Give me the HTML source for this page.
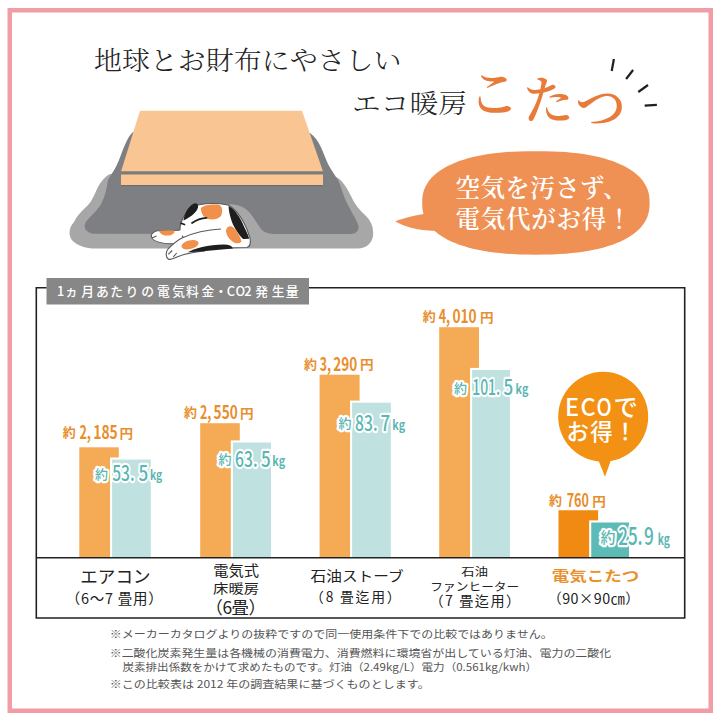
<!DOCTYPE html>
<html lang="ja">
<head>
<meta charset="utf-8">
<style>
html,body{margin:0;padding:0;background:#fff;}
body{width:720px;height:720px;overflow:hidden;position:relative;}
svg{position:absolute;left:0;top:0;display:block;}
.serif{font-family:"Liberation Serif","Noto Serif CJK JP","Noto Serif CJK SC",serif;}
.sans{font-family:"Liberation Sans","Noto Sans CJK JP","Noto Sans CJK SC",sans-serif;}
.jp{font-family:"Noto Sans CJK JP","Noto Sans CJK SC",sans-serif;}
.num{font-family:"Liberation Sans",sans-serif;}
</style>
</head>
<body>
<svg width="720" height="720" viewBox="0 0 720 720">
  <!-- pink frame -->
  <rect x="9.75" y="10.25" width="701" height="700.5" fill="none" stroke="#F19DA6" stroke-width="4.5"/>

  <!-- title -->
  <text class="serif" x="94" y="70" font-size="26" font-weight="300" fill="#222" textLength="307.5" lengthAdjust="spacingAndGlyphs">地球とお財布にやさしい</text>
  <text class="serif" x="352" y="113" font-size="26" font-weight="300" fill="#222" textLength="115" lengthAdjust="spacingAndGlyphs">エコ暖房</text>

  <!-- こたつ -->
  <g class="serif" font-size="51" fill="#E97B3A" font-weight="600">
    <text x="468.5" y="111.5">こ</text>
    <text x="523" y="119">た</text>
    <text x="575" y="126">つ</text>
  </g>
  <!-- rays -->
  <g stroke="#1f1f1f" stroke-width="2.2" stroke-linecap="butt">
    <line x1="613.9" y1="59" x2="611.7" y2="71"/>
    <line x1="633.1" y1="70" x2="626.1" y2="79"/>
    <line x1="648" y1="85" x2="638.3" y2="92"/>
    <line x1="644.7" y1="105.6" x2="656.9" y2="104.8"/>
  </g>

  <!-- kotatsu -->
  <g id="kotatsu">
    <path d="M110,174 C104,177 100,183 97,189 C94,196 91,203 85,208 C80,213 76,217 74,222 C68,228 68,238 74,242 C79,246 86,248.5 95,248.5 L358,248.5 C366,248.5 372,243 373,236 C374,228 371,221 366,216 C359,210 354,203 351,196 C346,186 342,180 336,177 Z" fill="#A7A7A8"/>
    <path d="M133,132 C127,137 123,150 119,160 C116,168 112,173 108,180 C106.5,190 104.5,198 100.5,205 C96,212 89,217.5 85.5,222.5 C83.5,227 85,232 93,233.8 L350,234 C356,234 359,231 358.5,226 C356,218 350,210 346,201 C342,192 340,182 336,177 C333,172 330,168 328,164 C323,153 320,140 310,133 Z" fill="#7E7F83"/>
    <!-- table -->
    <polygon points="140,110.7 302,110.7 323,171.5 121,171.5" fill="#F9C592"/>
    <rect x="121" y="171.5" width="202" height="3" fill="#7b7b7b"/>
    <rect x="121" y="174.5" width="202" height="10.5" fill="#F9C592"/>
    <rect x="121" y="185" width="202" height="1.2" fill="#6c6d71"/>
    <!-- mound over cat -->
    <path d="M222,234 C222,220 224,207 228,204.5 C236,203 245,207 250,213 C255,219 258,226 263,231 C266,233 270,234 274,234 Z" fill="#A7A7A8"/>
    <!-- cat -->
    <g stroke="#5a5a5a" stroke-width="1.1" stroke-linejoin="round">
      <!-- body -->
      <path d="M181,223 C183,215 190,207 198,205 C208,203 220,203.5 228,205 C237,210 245,222 250,238 C251,243 250,246.5 247,247.5 L200,248.5 L183,237 C180,234 179,229 181,223 Z" fill="#fff"/>
      <path d="M228.6,206.3 C233,208 238,214 242,222 C245,229 248,234 249.2,238.7 L243,239 C238,234 233,226 231,219 C229.5,214 228.6,210 228.6,206.3 Z" fill="#1e1e1e" stroke="none"/>
      <path d="M226,230 C227,226 231,225 234,228 C237,231 240,236 241.5,241 C241,243.5 236,244 233,242 C229,239 226,235 226,230 Z" fill="#F0904A" stroke="none"/>
      <path d="M200.8,208 C204,205 212,204 219,204.8 C222.5,206 223,212 221,216 C218,219.5 212,220 208,219 C204,217.5 201,214 200.8,208 Z" fill="#F0904A" stroke="none"/>
      <path d="M183.5,220.5 C184,214 188,207 193,204 C196,202.3 198.8,204 198,207.5 C197,211.5 192,216.5 183.5,220.5 Z" fill="#1e1e1e" stroke="none"/>
      <!-- left paw -->
      <path d="M183,230.2 L157,230.8 C153.5,232 151,234 151.3,236.5 C152,240.5 157,242.8 169,243.8 L181,243 Z" fill="#fff" stroke="none"/>
      <path d="M179.5,230.2 L157,230.8 C153.5,232 151,234 151.3,236.5 C152,240.5 157,242.8 169,243.8 L176,243.8" fill="none"/>
      <path d="M159,230.8 C164,230 170,230 174.5,230.4 C175,233 172,235.5 167,235.6 C162.5,235.5 160,233.5 159,230.8 Z" fill="#F0904A" stroke="none"/>
      <path d="M152,238 L156.5,236" fill="none"/>
      <!-- lower leg -->
      <path d="M222,229 C210,229.5 195,232 182,238 C177,240.5 172,245 168,249 C165.5,252 165.5,257 168.5,259.2 C171,260 174,258.5 177,257 C183,254.5 192,252 205,251 L224,249 L224,229 Z" fill="#fff" stroke="none"/>
      <path d="M221,229 C210,229.5 195,232 182,238 C177,240.5 172,245 168,249 C165.5,252 165.5,257 168.5,259.2 C171,260 174,258.5 177,257 C183,254.5 192,252 205,251" fill="none"/>
      <path d="M168.3,254.4 L172.2,250.5 M173.3,256.9 L176.7,253" fill="none"/>
      <ellipse cx="190" cy="244.7" rx="8.8" ry="4.3" transform="rotate(-14 190 244.7)" fill="#F0904A" stroke="none"/>
      <path d="M187.5,252.3 C194,248.8 208,244.5 224,244.5 C229,244.6 232,246 233,248.5 L200,251.5 Z" fill="#1e1e1e" stroke="none"/>
    </g>
    <g stroke="#1e1e1e" stroke-width="1.7" fill="none" stroke-linecap="round">
      <path d="M192,223 C196,220 201.5,218 206.5,217.8"/>
      <path d="M181,223.2 L184.5,224.5"/>
    </g>
  </g>

  <!-- speech bubble -->
  <path d="M649.6,202.9 L649.5,207.1 L649.1,210.5 L648.4,213.6 L647.5,216.5 L646.3,219.3 L644.8,221.9 L643.1,224.5 L641.2,227.0 L639.0,229.3 L636.5,231.6 L633.8,233.8 L630.8,235.8 L627.6,237.8 L624.2,239.7 L620.6,241.4 L616.7,243.1 L612.6,244.7 L608.2,246.1 L603.7,247.5 L598.9,248.7 L594.0,249.8 L588.8,250.8 L583.4,251.7 L577.8,252.5 L571.9,253.1 L565.8,253.7 L559.3,254.1 L552.5,254.4 L545.1,254.6 L535.9,254.7 L526.7,254.6 L519.3,254.4 L512.5,254.1 L506.0,253.7 L499.9,253.1 L494.0,252.5 L488.4,251.7 L483.0,250.8 L477.8,249.8 L472.9,248.7 L468.1,247.5 L463.6,246.1 L459.2,244.7 L455.1,243.1 L451.2,241.4 L447.6,239.7 L444.2,237.8 L441.0,235.8 L438.0,233.8 L435.3,231.6 L432.8,229.3 L430.6,227.0 L428.7,224.5 L427.0,221.9 L425.5,219.3 L424.3,216.5 L423.4,213.6 L422.7,210.5 L422.3,207.1 L422.2,202.9 L422.3,198.7 L422.7,195.3 L423.4,192.2 L424.3,189.3 L425.5,186.5 L427.0,183.9 L428.7,181.3 L430.6,178.8 L432.8,176.5 L435.3,174.2 L438.0,172.0 L441.0,170.0 L444.2,168.0 L447.6,166.1 L451.2,164.4 L455.1,162.7 L459.2,161.1 L463.6,159.7 L468.1,158.3 L472.9,157.1 L477.8,156.0 L483.0,155.0 L488.4,154.1 L494.0,153.3 L499.9,152.7 L506.0,152.1 L512.5,151.7 L519.3,151.4 L526.7,151.2 L535.9,151.2 L545.1,151.2 L552.5,151.4 L559.3,151.7 L565.8,152.1 L571.9,152.7 L577.8,153.3 L583.4,154.1 L588.8,155.0 L594.0,156.0 L598.9,157.1 L603.7,158.3 L608.2,159.7 L612.6,161.1 L616.7,162.7 L620.6,164.4 L624.2,166.1 L627.6,168.0 L630.8,170.0 L633.8,172.0 L636.5,174.2 L639.0,176.5 L641.2,178.8 L643.1,181.3 L644.8,183.9 L646.3,186.5 L647.5,189.3 L648.4,192.2 L649.1,195.3 L649.5,198.7 Z" fill="#EF9055"/>
  <path d="M426,213.5 C416,215 404,218 395.2,221.3 C403,226 416,230.5 436,231 Z" fill="#EF9055"/>
  <g class="serif" font-size="24.5" fill="#fff" font-weight="600">
    <text x="455.5" y="197.3" textLength="172" lengthAdjust="spacing">空気を汚さず、</text>
    <text x="455.5" y="228.3" textLength="176" lengthAdjust="spacing">電気代がお得！</text>
  </g>

  <rect x="46.5" y="278" width="262.5" height="26.5" fill="#878787"/>
  <text id="hdr" class="jp" x="56.90 65.10 81.30 96.10 110.20 125.50 141.20 156.90 172.20 186.10 201.60 214.60 226.80 235.60 244.30 250.30 255.30 271.70 285.80" y="295.8" font-size="12.8" font-weight="500" fill="#fff">1ヵ月あたりの電気料金・CO2 発生量</text>

  <!-- bars -->
  <g id="bars">
    <rect x="79.3" y="447.3" width="39.50" height="110.40" fill="#F5AA56"/>
    <rect x="110.00" y="457.50" width="40.80" height="100.20" fill="#fff"/>
    <rect x="112.1" y="459.6" width="38.70" height="98.10" fill="#BFE1DF"/>
    <rect x="200.2" y="423.2" width="39.60" height="134.50" fill="#F5AA56"/>
    <rect x="230.80" y="440.40" width="40.20" height="117.30" fill="#fff"/>
    <rect x="232.9" y="442.5" width="38.10" height="115.20" fill="#BFE1DF"/>
    <rect x="319.6" y="374.7" width="40.00" height="183.00" fill="#F5AA56"/>
    <rect x="350.00" y="400.60" width="40.80" height="157.10" fill="#fff"/>
    <rect x="352.1" y="402.7" width="38.70" height="155.00" fill="#BFE1DF"/>
    <rect x="439.2" y="327.2" width="39.80" height="230.50" fill="#F5AA56"/>
    <rect x="470.00" y="367.90" width="40.00" height="189.80" fill="#fff"/>
    <rect x="472.1" y="370.0" width="37.90" height="187.70" fill="#BFE1DF"/>
    <rect x="558.5" y="510.25" width="39.60" height="47.45" fill="#F08A12"/>
    <rect x="589.15" y="520.40" width="39.85" height="37.30" fill="#fff"/>
    <rect x="591.25" y="522.5" width="37.75" height="35.20" fill="#5CBAB7"/>
  </g>
  <!-- chart frame -->
  <g fill="none" stroke="#222" stroke-width="1.6">
    <path d="M46.5,287.7 L36.3,287.7 L36.3,618 L684.7,618 L684.7,287.7 L309,287.7"/>
    <line x1="36.3" y1="557.7" x2="684.7" y2="557.7"/>
  </g>

<g fill="#E98E2C" font-family='"Noto Sans CJK JP","Noto Sans CJK SC",sans-serif' font-weight="700">
<text x="62.8" y="437.0" font-size="13" font-weight="700">約</text>
<text y="438.9" font-size="18.5" font-weight="700"><tspan x="79.4" textLength="11.52" lengthAdjust="spacingAndGlyphs">2,</tspan><tspan x="93.224" textLength="24.576" lengthAdjust="spacingAndGlyphs">185</tspan></text>
<text x="119.4" y="437.59999999999997" font-size="13" font-weight="700" textLength="13.6" lengthAdjust="spacingAndGlyphs">円</text>
<text x="183.9" y="417.0" font-size="13" font-weight="700">約</text>
<text y="418.9" font-size="18.5" font-weight="700"><tspan x="200.0" textLength="11.339999999999998" lengthAdjust="spacingAndGlyphs">2,</tspan><tspan x="213.608" textLength="24.192" lengthAdjust="spacingAndGlyphs">550</tspan></text>
<text x="240.0" y="417.59999999999997" font-size="13" font-weight="700" textLength="13.6" lengthAdjust="spacingAndGlyphs">円</text>
<text x="303.9" y="368.70000000000005" font-size="13" font-weight="700">約</text>
<text y="370.6" font-size="18.5" font-weight="700"><tspan x="319.8" textLength="11.219999999999999" lengthAdjust="spacingAndGlyphs">3,</tspan><tspan x="333.264" textLength="23.936" lengthAdjust="spacingAndGlyphs">290</tspan></text>
<text x="360.0" y="369.3" font-size="13" font-weight="700" textLength="13.6" lengthAdjust="spacingAndGlyphs">円</text>
<text x="422.8" y="320.90000000000003" font-size="13" font-weight="700">約</text>
<text y="322.8" font-size="18.5" font-weight="700"><tspan x="438.7" textLength="11.4" lengthAdjust="spacingAndGlyphs">4,</tspan><tspan x="452.38" textLength="24.32" lengthAdjust="spacingAndGlyphs">010</tspan></text>
<text x="480.0" y="321.5" font-size="13" font-weight="700" textLength="13.6" lengthAdjust="spacingAndGlyphs">円</text>
<text x="548.9" y="505.0" font-size="13" font-weight="700">約</text>
<text x="566.7" y="506.9" font-size="18.5" textLength="22.2" lengthAdjust="spacingAndGlyphs">760</text>
<text x="592.1999999999999" y="505.59999999999997" font-size="13" font-weight="700" textLength="13.6" lengthAdjust="spacingAndGlyphs">円</text>
</g>
<g fill="#5BB6B3" stroke="#fff" stroke-width="4.4" paint-order="stroke" stroke-linejoin="round" font-family='"Noto Sans CJK JP","Noto Sans CJK SC",sans-serif' font-weight="700">
<text x="95.1" y="478.5" font-size="13.0" font-weight="500">約</text>
<text y="480.9" font-size="21.0" font-weight="500"><tspan x="112.2" textLength="22.5" lengthAdjust="spacingAndGlyphs">53.</tspan><tspan x="138.6" textLength="9.7" lengthAdjust="spacingAndGlyphs">5</tspan></text>
<text x="150.0" y="480.2" font-size="13.0" font-weight="700" textLength="12.2" lengthAdjust="spacingAndGlyphs">kg</text>
<text x="218.5" y="464.20000000000005" font-size="13.0" font-weight="500">約</text>
<text y="466.6" font-size="21.0" font-weight="500"><tspan x="235.1" textLength="22.5" lengthAdjust="spacingAndGlyphs">63.</tspan><tspan x="261.0" textLength="9.7" lengthAdjust="spacingAndGlyphs">5</tspan></text>
<text x="272.3" y="465.90000000000003" font-size="13.0" font-weight="700" textLength="12.8" lengthAdjust="spacingAndGlyphs">kg</text>
<text x="338.5" y="428.20000000000005" font-size="13.0" font-weight="500">約</text>
<text y="430.6" font-size="21.0" font-weight="500"><tspan x="355.1" textLength="22.5" lengthAdjust="spacingAndGlyphs">83.</tspan><tspan x="380.4" textLength="9.7" lengthAdjust="spacingAndGlyphs">7</tspan></text>
<text x="392.3" y="429.90000000000003" font-size="13.0" font-weight="700" textLength="12.8" lengthAdjust="spacingAndGlyphs">kg</text>
<text x="453.9" y="392.6" font-size="13.0" font-weight="500">約</text>
<text y="395.0" font-size="21.0" font-weight="500"><tspan x="472.2" textLength="28.0" lengthAdjust="spacingAndGlyphs">101.</tspan><tspan x="503.6" textLength="9.7" lengthAdjust="spacingAndGlyphs">5</tspan></text>
<text x="515.6" y="394.3" font-size="13.0" font-weight="700" textLength="12.7" lengthAdjust="spacingAndGlyphs">kg</text>
<text x="600.5" y="542.9" font-size="14.9" font-weight="500">約</text>
<text y="545.3" font-size="24.1" font-weight="500"><tspan x="618.2" textLength="24.5" lengthAdjust="spacingAndGlyphs">25.</tspan><tspan x="644.0" textLength="9.8" lengthAdjust="spacingAndGlyphs">9</tspan></text>
<text x="657.7" y="544.5999999999999" font-size="14.9" font-weight="700" textLength="12.2" lengthAdjust="spacingAndGlyphs">kg</text>
</g>
  <!-- ECO bubble -->
  <circle cx="603.2" cy="416.7" r="45" fill="#F29114"/>
  <polygon points="597.5,458 611.7,458 605,476.7" fill="#F29114"/>
  <g class="jp" font-size="23.5" fill="#fff" font-weight="500">
    <text y="416.4"><tspan x="565">E</tspan><tspan x="580.4">C</tspan><tspan x="596.6" textLength="15.2" lengthAdjust="spacingAndGlyphs">O</tspan><tspan x="613.6" font-size="24.3">で</tspan></text>
    <text x="566.5" y="440" font-size="22.5" textLength="70" lengthAdjust="spacing">お得！</text>
  </g>

<g font-family='"Noto Sans CJK JP","Noto Sans CJK SC",sans-serif' text-anchor="middle">
<text x="115.40" y="583.07" font-size="17.20" fill="#222" font-weight="400" textLength="70.10" lengthAdjust="spacingAndGlyphs">エアコン</text>
<text x="114.15" y="604.18" font-size="14.46" fill="#222" font-weight="400" textLength="97.01" lengthAdjust="spacing">（6～7 畳用）</text>
<text x="236.15" y="576.10" font-size="14.59" fill="#222" font-weight="400" textLength="45.93" lengthAdjust="spacingAndGlyphs">電気式</text>
<text x="236.05" y="593.32" font-size="12.79" fill="#222" font-weight="400" textLength="45.91" lengthAdjust="spacingAndGlyphs">床暖房</text>
<text x="235.70" y="613.75" font-size="17.37" fill="#222" font-weight="400" textLength="60.26" lengthAdjust="spacing">（6畳）</text>
<text x="357.15" y="580.70" font-size="13.83" fill="#222" font-weight="400" textLength="93.13" lengthAdjust="spacingAndGlyphs">石油ストーブ</text>
<text x="355.35" y="601.93" font-size="13.82" fill="#222" font-weight="400" textLength="90.65" lengthAdjust="spacing">（8 畳迄用）</text>
<text x="474.65" y="575.80" font-size="11.07" fill="#222" font-weight="400" textLength="26.59" lengthAdjust="spacingAndGlyphs">石油</text>
<text x="474.80" y="590.75" font-size="11.87" fill="#222" font-weight="400" textLength="88.87" lengthAdjust="spacingAndGlyphs">ファンヒーター</text>
<text x="474.85" y="606.10" font-size="14.15" fill="#222" font-weight="400" textLength="90.80" lengthAdjust="spacing">（7 畳迄用）</text>
<text x="595.45" y="581.05" font-size="13.58" fill="#EA8F2A" font-weight="700" textLength="87.58" lengthAdjust="spacingAndGlyphs">電気こたつ</text>
<text x="593.50" y="603.53" font-size="14.29" fill="#222" font-weight="400" textLength="92.17" lengthAdjust="spacing">（90×90㎝）</text>
</g>
  <!-- footnotes -->
  <g class="jp" font-size="10.6" fill="#555">
    <text x="109.7" y="638.3" textLength="443" lengthAdjust="spacingAndGlyphs">※メーカーカタログよりの抜粋ですので同一使用条件下での比較ではありません。</text>
    <text x="109.7" y="657.1" textLength="501.5" lengthAdjust="spacingAndGlyphs">※二酸化炭素発生量は各機械の消費電力、消費燃料に環境省が出している灯油、電力の二酸化</text>
    <text x="122.5" y="670.6" textLength="414.5" lengthAdjust="spacingAndGlyphs">炭素排出係数をかけて求めたものです。灯油（2.49kg/L）電力（0.561kg/kwh）</text>
    <text x="109.7" y="688.3" textLength="320" lengthAdjust="spacingAndGlyphs">※この比較表は 2012 年の調査結果に基づくものとします。</text>
  </g>
</svg>
</body>
</html>
